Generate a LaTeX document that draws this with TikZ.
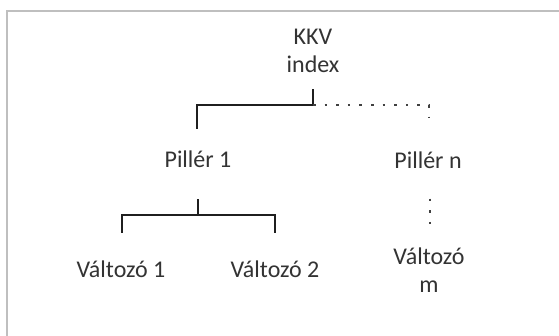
\documentclass[tikz,border=0pt]{standalone}
\usepackage{fontspec}
\setmainfont{Carlito}
\begin{document}
\begin{tikzpicture}[x=1pt,y=-1pt,
  lbl/.style={font=\fontsize{24}{28}\selectfont, text=black!80, inner sep=0pt, anchor=base, align=center},
  bar/.style={line width=2pt, draw=black!88, line cap=rect},
  dotline/.style={line width=2.6pt, draw=black!75, line cap=butt, dash pattern=on 2.6pt off 9pt}
]
% canvas and frame
\useasboundingbox (0,0) rectangle (559,336);
\fill[white] (0,0) rectangle (559,336);
\draw[line width=2pt, draw=black!25] (7,336) -- (7,11) -- (559,11);

% labels (multi-line nodes sit on the baseline of their last line)
\node[lbl] (kkv) at (313,73) {KKV\\index};
\node[lbl] (p1) at (198,168) {Pillér 1};
\node[lbl] (pn) at (428,169) {Pillér n};
\node[lbl] (v1) at (121,278) {Változó 1};
\node[lbl] (v2) at (275,278) {Változó 2};
\node[lbl] (vm) at (429,293) {Változó\\m};

% bracket joints
\coordinate (k0) at (313,90);
\coordinate (k1) at (313,105);
\coordinate (p1top) at (197,128);
\coordinate (pntop) at (429,118);
\coordinate (s0) at (198,200);
\coordinate (s1) at (198,215);
\coordinate (v1top) at (122,232);
\coordinate (v2top) at (275,232);
\coordinate (d0) at (430,198.7);
\coordinate (d1) at (430,226);

% index to pillars
\draw[bar] (k0) -- (k1) -| (p1top);
\draw[dotline] (k1) -| (pntop);

% pillar 1 to its variables
\draw[bar] (s0) -- (s1);
\draw[bar] (v1top) |- (s1) -| (v2top);

% pillar n to its variables
\draw[dotline] (d0) -- (d1);
\end{tikzpicture}
\end{document}
